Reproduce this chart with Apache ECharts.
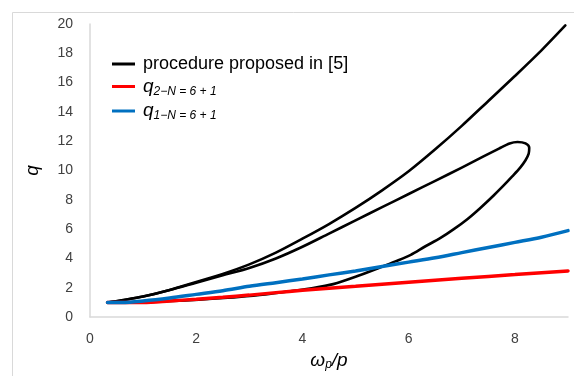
<!DOCTYPE html>
<html>
<head>
<meta charset="utf-8">
<script src="https://cdn.jsdelivr.net/npm/echarts@6/dist/echarts.min.js"></script>
<style>html,body{margin:0;padding:0;background:#fff;}#c{width:574px;height:376px;}</style>
</head>
<body>
<div id="c"></div>
<script>
// Tick labels
const xTicks = [0, 2, 4, 6, 8];
const yTicks = [0, 2, 4, 6, 8, 10, 12, 14, 16, 18, 20];

// Black curve ("procedure proposed in [5]"), upper branch
const blackTopX = [0.33, 0.6, 1, 1.5, 2, 2.5, 3, 3.5, 4, 4.5, 5, 5.5, 6, 6.5, 7, 7.5, 8, 8.5, 8.95];
const blackTopQ = [1, 1.15, 1.4, 1.85, 2.4, 2.95, 3.6, 4.4, 5.35, 6.35, 7.45, 8.65, 9.95, 11.45, 13.05, 14.75, 16.45, 18.2, 19.9];

// Black curve, loop (middle branch out, lower branch back)
const blackLoopX = [0.33, 0.6, 1, 1.5, 2, 2.5, 3, 3.5, 4, 4.5, 5, 5.5, 6, 6.5, 7, 7.4, 7.7, 7.9, 8.05, 8.2, 8.27, 8.26, 8.2, 8.1, 7.95, 7.78, 7.6, 7.35, 7.11, 6.85, 6.6, 6.3, 6.04, 5.75, 5.47, 5.0, 4.58, 4.2, 3.8, 3.3, 2.8, 2.3, 1.8, 1.3, 0.8, 0.33];
const blackLoopQ = [1, 1.15, 1.4, 1.85, 2.35, 2.85, 3.35, 4.0, 4.8, 5.7, 6.6, 7.5, 8.4, 9.3, 10.2, 10.95, 11.5, 11.85, 11.95, 11.85, 11.55, 11.15, 10.7, 10.2, 9.6, 8.95, 8.3, 7.45, 6.7, 6.0, 5.4, 4.8, 4.25, 3.8, 3.4, 2.75, 2.25, 1.98, 1.78, 1.55, 1.38, 1.25, 1.14, 1.06, 1.0, 1.0];

// q_{2-N=6+1} (red)
const redX = [0.33, 1, 1.5, 2, 2.5, 3, 3.5, 4, 5, 6, 7, 8, 9];
const redQ = [1, 1.0, 1.1, 1.22, 1.35, 1.5, 1.67, 1.83, 2.1, 2.38, 2.65, 2.9, 3.15];

// q_{1-N=6+1} (blue)
const blueX = [0.33, 0.6, 1, 1.5, 2, 2.5, 3, 3.5, 4, 4.5, 5, 5.5, 6, 6.5, 7, 7.5, 8, 8.5, 9];
const blueQ = [1, 1.0, 1.1, 1.3, 1.55, 1.8, 2.1, 2.35, 2.6, 2.88, 3.15, 3.45, 3.75, 4.05, 4.4, 4.75, 5.1, 5.45, 5.9];

const NAME_BLACK = 'procedure proposed in [5]';
const NAME_RED = 'q2';
const NAME_BLUE = 'q1';
const legendText = {};
legendText[NAME_BLACK] = '{t|procedure proposed in [5]}';
legendText[NAME_RED] = '{q|q}{s|2\u2212N = 6 + 1}';
legendText[NAME_BLUE] = '{q|q}{s|1\u2212N = 6 + 1}';

function pairs(xs, ys) { return xs.map((x, i) => [x, ys[i]]); }

const FONT = '"Liberation Sans", Arial, sans-serif';
const chart = echarts.init(document.getElementById('c'), null, {renderer: 'canvas'});
chart.setOption({
  animation: false,
  backgroundColor: '#fff',
  textStyle: {fontFamily: FONT},
  graphic: [
    {type: 'line', shape: {x1: 12.5, y1: 12.5, x2: 574, y2: 12.5}, style: {stroke: '#d9d9d9', lineWidth: 1}},
    {type: 'line', shape: {x1: 12.5, y1: 12.5, x2: 12.5, y2: 376}, style: {stroke: '#d9d9d9', lineWidth: 1}}
  ],
  grid: {left: 90, right: 6, top: 24, bottom: 53, containLabel: false},
  legend: {
    orient: 'vertical', left: 107, top: 50, itemGap: 4,
    itemWidth: 23, itemHeight: 3, icon: 'rect',
    data: [NAME_BLACK, NAME_RED, NAME_BLUE],
    formatter: n => legendText[n],
    textStyle: {
      color: '#000', fontFamily: FONT, fontSize: 18, padding: [0, 0, 0, 3],
      rich: {
        t: {fontSize: 18, fontFamily: FONT, color: '#000', lineHeight: 20},
        q: {fontSize: 19, fontStyle: 'italic', fontFamily: FONT, color: '#000', lineHeight: 20},
        s: {fontSize: 12, fontStyle: 'italic', fontFamily: FONT, color: '#000', padding: [10, 0, 0, 0]}
      }
    }
  },
  xAxis: {
    type: 'value', min: 0, max: 9, interval: 2,
    name: '{a|\u03c9}{s|p}{a|/p}', nameLocation: 'middle', nameGap: 31,
    nameTextStyle: {
      rich: {
        a: {fontSize: 19, fontStyle: 'italic', fontFamily: FONT, color: '#000'},
        s: {fontSize: 12, fontStyle: 'italic', fontFamily: FONT, color: '#000', padding: [9, 0, 0, 0]}
      }
    },
    axisLine: {show: true, lineStyle: {color: '#d9d9d9', width: 1.5}},
    axisTick: {show: false},
    splitLine: {show: false},
    axisLabel: {color: '#404040', fontSize: 14, margin: 15, showMaxLabel: false,
      formatter: v => xTicks.indexOf(v) >= 0 ? String(v) : ''}
  },
  yAxis: {
    type: 'value', min: 0, max: 20, interval: 2,
    name: 'q', nameLocation: 'middle', nameGap: 48, nameRotate: 90,
    nameTextStyle: {fontSize: 19, fontStyle: 'italic', color: '#000', fontFamily: FONT},
    axisLine: {show: true, lineStyle: {color: '#d9d9d9', width: 1.5}},
    axisTick: {show: false},
    splitLine: {show: false},
    axisLabel: {color: '#404040', fontSize: 14, margin: 17,
      formatter: v => yTicks.indexOf(v) >= 0 ? String(v) : ''}
  },
  series: [
    {name: NAME_BLACK, type: 'line', data: pairs(blackTopX, blackTopQ), showSymbol: false, smooth: 0.3,
      lineStyle: {color: '#000', width: 2.6, cap: 'round', join: 'round'}, itemStyle: {color: '#000'}},
    {name: NAME_BLACK, type: 'line', data: pairs(blackLoopX, blackLoopQ), showSymbol: false, smooth: 0.3,
      lineStyle: {color: '#000', width: 2.6, cap: 'round', join: 'round'}, itemStyle: {color: '#000'}},
    {name: NAME_RED, type: 'line', data: pairs(redX, redQ), showSymbol: false, smooth: 0.3,
      lineStyle: {color: '#ff0000', width: 3.5, cap: 'round'}, itemStyle: {color: '#ff0000'}},
    {name: NAME_BLUE, type: 'line', data: pairs(blueX, blueQ), showSymbol: false, smooth: 0.3,
      lineStyle: {color: '#0070c0', width: 3.5, cap: 'round'}, itemStyle: {color: '#0070c0'}}
  ]
});
</script>
</body>
</html>
